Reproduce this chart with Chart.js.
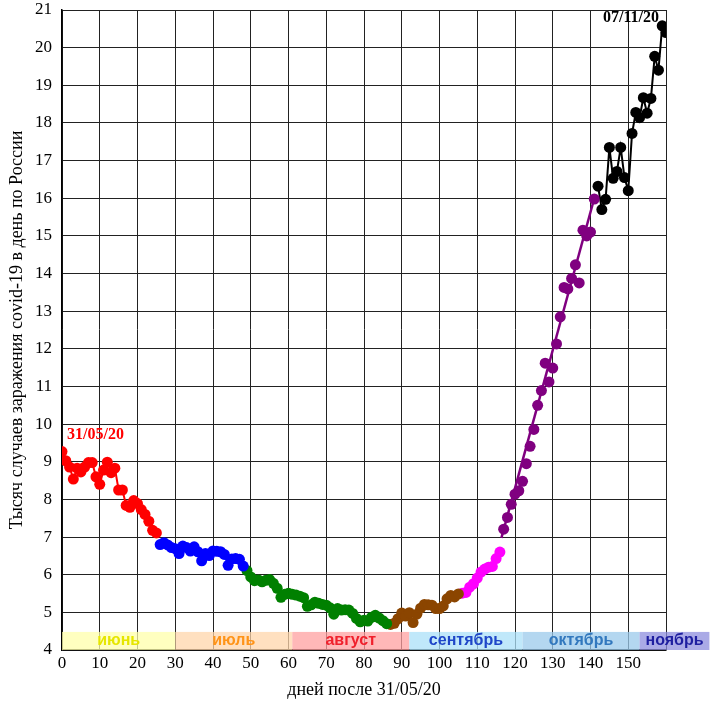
<!DOCTYPE html>
<html>
<head>
<meta charset="utf-8">
<script src="https://cdn.jsdelivr.net/npm/chart.js@4.4.0/dist/chart.umd.min.js"></script>
<style>
    html, body { margin: 0; padding: 0; background: #fff; }
</style>
</head>
<body>
<canvas id="covidChart" width="712" height="701"></canvas>
<script>
// daily new cases in Russia, thousands, day 0 = 31/05/20
const dailyCases = [
    // red, days 0-25
    9.27, 9.03, 8.86, 8.54, 8.83, 8.73, 8.86, 8.98, 8.98, 8.60, 8.40, 8.78, 8.99, 8.71, 8.83, 8.25, 8.25, 7.84, 7.79, 7.97, 7.89, 7.73, 7.60, 7.42, 7.18, 7.11,
    // blue, days 26-48
    6.80, 6.85, 6.79, 6.72, 6.69, 6.56, 6.76, 6.72, 6.63, 6.74, 6.61, 6.37, 6.56, 6.51, 6.63, 6.62, 6.61, 6.54, 6.25, 6.42, 6.43, 6.41, 6.23,
    // green, days 49-86
    6.11, 5.94, 5.84, 5.86, 5.81, 5.85, 5.87, 5.77, 5.64, 5.40, 5.48, 5.51, 5.48, 5.46, 5.43, 5.39, 5.16, 5.20, 5.27, 5.24, 5.21, 5.19, 5.12, 4.95, 5.10, 5.06, 5.07, 5.06, 4.97, 4.84, 4.75, 4.79, 4.77, 4.87, 4.92, 4.85, 4.78, 4.70,
    // brown, days 87-105
    4.68, 4.71, 4.83, 4.98, 4.90, 4.99, 4.73, 4.95, 5.11, 5.21, 5.20, 5.19, 5.10, 5.10, 5.17, 5.36, 5.45, 5.41, 5.49,
    // magenta, days 106-116
    5.51, 5.53, 5.67, 5.76, 5.91, 6.07, 6.15, 6.20, 6.22, 6.43, 6.60,
    // purple, days 117-141
    7.21, 7.52, 7.87, 8.14, 8.23, 8.48, 8.95, 9.41, 9.86, 10.50, 10.89, 11.62, 11.12, 11.49, 12.13, 12.85, 13.63, 13.59, 13.87, 14.23, 13.75, 15.15, 15.00, 15.10, 15.98,
    // black, days 142-160
    16.32, 15.70, 15.97, 17.35, 16.53, 16.71, 17.35, 16.55, 16.20, 17.72, 18.28, 18.14, 18.67, 18.26, 18.65, 19.77, 19.40, 20.58, 20.40
];
const segmentStarts = [0, 26, 49, 87, 106, 117, 142];
const segmentColors = ['#ff0000', '#0000ff', '#008000', '#8b4500', '#ff00ff', '#800080', '#000000'];

// straight trend line through the purple part
const trendDays = [116.4, 141];
const trendValues = [6.98, 16.0];

// month strip at the bottom
const monthNames = ['июнь', 'июль', 'август', 'сентябрь', 'октябрь', 'ноябрь'];
const monthStartDays = [0, 30, 61, 92, 122, 153];
const monthEndDays = [30, 61, 92, 122, 153, 171.5];
const monthFills = ['rgba(255,255,171,0.75)', 'rgba(255,214,171,0.75)', 'rgba(255,160,160,0.75)',
                    'rgba(171,224,248,0.75)', 'rgba(155,202,235,0.75)', 'rgba(142,142,222,0.75)'];
const monthTextColors = ['#e6e600', '#ff9418', '#f0202c', '#1e46c8', '#3278be', '#1e1ea0'];

const xTicksMax = 150;

function build_datasets() {
    const sets = [];
    segmentStarts.forEach((start, i) => {
        const end = i + 1 < segmentStarts.length ? segmentStarts[i + 1] : dailyCases.length;
        const pts = [];
        for (let d = start; d < end; d++) {
            pts.push({ x: d, y: dailyCases[d] });
        }
        sets.push({
            data: pts,
            borderColor: segmentColors[i],
            backgroundColor: segmentColors[i],
            pointBackgroundColor: segmentColors[i],
            pointBorderColor: segmentColors[i],
            borderWidth: 2,
            pointRadius: 5.5,
            pointBorderWidth: 0,
            showLine: i !== 5,
            tension: 0
        });
    });
    sets.push({
        data: trendDays.map((d, i) => ({ x: d, y: trendValues[i] })),
        borderColor: segmentColors[5],
        borderWidth: 2.5,
        pointRadius: 0,
        showLine: true
    });
    return sets;
}

const monthStrip = {
    id: 'monthStrip',
    beforeDatasetsDraw(chart) {
        const ctx = chart.ctx;
        const xs = chart.scales.x;
        const ys = chart.scales.y;
        const top = ys.getPixelForValue(4.48);
        const bottom = ys.getPixelForValue(4);
        ctx.save();
        monthNames.forEach((name, i) => {
            const x0 = xs.getPixelForValue(monthStartDays[i]);
            const x1 = Math.min(xs.getPixelForValue(monthEndDays[i]), chart.width);
            ctx.fillStyle = monthFills[i];
            ctx.fillRect(x0, top, x1 - x0, bottom - top);
            ctx.fillStyle = monthTextColors[i];
            ctx.font = 'bold 16px "Liberation Sans", Arial, sans-serif';
            ctx.textAlign = 'center';
            ctx.textBaseline = 'middle';
            ctx.fillText(name, (x0 + x1) / 2, (top + bottom) / 2);
        });
        ctx.restore();
    },
    afterDatasetsDraw(chart) {
        const ctx = chart.ctx;
        const xs = chart.scales.x;
        const ys = chart.scales.y;
        ctx.save();
        ctx.font = 'bold 16px "Liberation Serif", "Times New Roman", serif';
        ctx.textBaseline = 'middle';
        ctx.fillStyle = segmentColors[0];
        ctx.textAlign = 'left';
        ctx.fillText('31/05/20', xs.getPixelForValue(0) + 5, ys.getPixelForValue(dailyCases[0]) - 17);
        ctx.fillStyle = '#000';
        ctx.textAlign = 'right';
        ctx.fillText('07/11/20', xs.getPixelForValue(dailyCases.length - 1) - 7, ys.getPixelForValue(21) + 8);
        ctx.restore();
    }
};

const serif = '"Liberation Serif", "Times New Roman", serif';

new Chart(document.getElementById('covidChart').getContext('2d'), {
    type: 'line',
    data: { datasets: build_datasets() },
    options: {
        responsive: false,
        animation: false,
        layout: { padding: { left: 0, right: 46, top: 0, bottom: 0 } },
        plugins: {
            legend: { display: false },
            tooltip: { enabled: false }
        },
        scales: {
            x: {
                type: 'linear',
                min: 0,
                max: dailyCases.length - 1,
                afterFit: s => { s.height = 51; s.paddingLeft = 0; s.paddingRight = 0; },
                ticks: {
                    stepSize: 10,
                    color: '#000',
                    padding: 3,
                    maxRotation: 0,
                    font: { family: serif, size: 17 },
                    callback: v => (v <= xTicksMax ? v : '')
                },
                grid: { color: '#222', lineWidth: 1, drawTicks: false },
                border: { color: '#000', width: 1.5 },
                title: {
                    display: true,
                    text: 'дней после 31/05/20',
                    color: '#000',
                    font: { family: serif, size: 18 },
                    padding: { top: 0, bottom: 0 }
                }
            },
            y: {
                min: 4,
                max: 21,
                afterFit: s => { s.width = 62; s.paddingTop = 10; s.paddingBottom = 0; },
                ticks: {
                    stepSize: 1,
                    color: '#000',
                    padding: 10,
                    font: { family: serif, size: 17 }
                },
                grid: { color: '#222', lineWidth: 1, drawTicks: false },
                border: { color: '#000', width: 1.5 },
                title: {
                    display: true,
                    text: 'Тысяч случаев заражения covid-19 в день по России',
                    color: '#000',
                    font: { family: serif, size: 18 },
                    padding: { top: 6, bottom: 0 }
                }
            }
        }
    },
    plugins: [monthStrip]
});
</script>
</body>
</html>
